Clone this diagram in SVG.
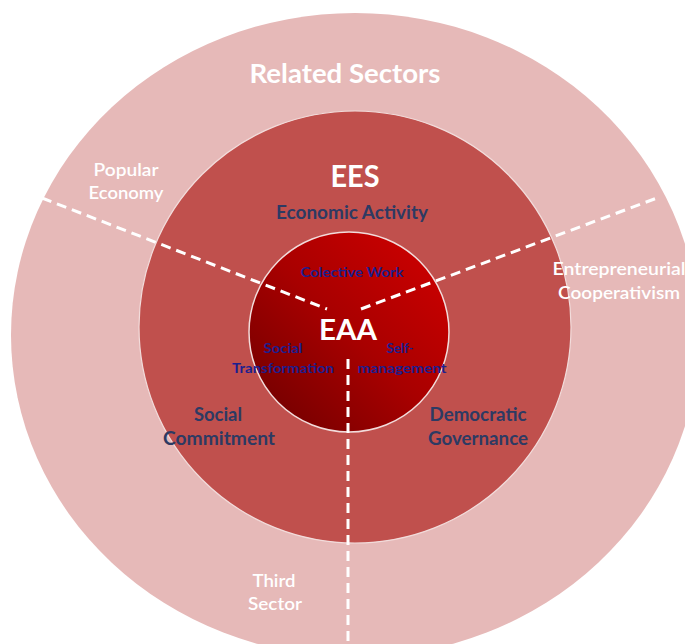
<svg xmlns="http://www.w3.org/2000/svg" width="685" height="644" viewBox="0 0 685 644">
  <style>
    .lbl { font-family: Lato, "Open Sans", "Liberation Sans", sans-serif; text-anchor: middle; }
    .head { fill: #ffffff; font-weight: bold; }
    .sector { fill: #ffffff; font-weight: 600; font-size: 17px; }
    .ees { fill: #2d3a63; font-weight: bold; font-size: 18px; }
    .eaa { fill: #1c1f8f; font-weight: bold; font-size: 13.5px; }
    .dash { stroke: #ffffff; stroke-width: 3; stroke-dasharray: 10 6; fill: none; }
  </style>
  <defs>
    <linearGradient id="coreFill" x1="0.15" y1="0.85" x2="0.85" y2="0.15">
      <stop offset="0" stop-color="#7c0000"/>
      <stop offset="0.5" stop-color="#a80000"/>
      <stop offset="1" stop-color="#c60000"/>
    </linearGradient>
  </defs>

  <rect width="685" height="644" fill="#ffffff"/>

  <!-- outer ring: related sectors -->
  <g id="related-sectors">
    <ellipse cx="355" cy="335" rx="344" ry="322" fill="#e6b9b8"/>
    <text class="lbl head" x="345" y="83" font-size="26" textLength="191" lengthAdjust="spacingAndGlyphs">Related Sectors</text>
  </g>

  <!-- middle ring: EES -->
  <g id="ees">
    <circle cx="355" cy="327" r="216" fill="#c0504d" stroke="#f2dcdb" stroke-width="1.2"/>
    <text class="lbl head" x="355" y="187" font-size="31" textLength="49" lengthAdjust="spacingAndGlyphs">EES</text>
  </g>

  <!-- core: EAA -->
  <g id="eaa">
    <circle cx="349" cy="332" r="100" fill="url(#coreFill)" stroke="#f2dcdb" stroke-width="1.5"/>
    <text class="lbl head" x="348" y="340" font-size="29" textLength="58" lengthAdjust="spacingAndGlyphs">EAA</text>
  </g>

  <!-- dividing lines between sectors -->
  <g id="connectors">
    <line class="dash" x1="42" y1="198" x2="327" y2="309"/>
    <line class="dash" x1="361" y1="309" x2="657" y2="198"/>
    <line class="dash" x1="348" y1="359" x2="348" y2="644"/>
  </g>

  <!-- sector labels in the outer ring -->
  <g id="popular-economy">
    <text class="lbl sector" x="126" y="176" textLength="65" lengthAdjust="spacingAndGlyphs">Popular</text>
    <text class="lbl sector" x="126" y="199" textLength="75" lengthAdjust="spacingAndGlyphs">Economy</text>
  </g>
  <g id="entrepreneurial-cooperativism">
    <text class="lbl sector" x="619" y="275" textLength="133" lengthAdjust="spacingAndGlyphs">Entrepreneurial</text>
    <text class="lbl sector" x="619" y="299" textLength="122" lengthAdjust="spacingAndGlyphs">Cooperativism</text>
  </g>
  <g id="third-sector">
    <text class="lbl sector" x="274" y="587" textLength="43" lengthAdjust="spacingAndGlyphs">Third</text>
    <text class="lbl sector" x="275" y="610" textLength="54" lengthAdjust="spacingAndGlyphs">Sector</text>
  </g>

  <!-- EES dimensions -->
  <g id="economic-activity">
    <text class="lbl ees" x="352" y="219" textLength="152" lengthAdjust="spacingAndGlyphs">Economic Activity</text>
  </g>
  <g id="social-commitment">
    <text class="lbl ees" x="218" y="421" textLength="48" lengthAdjust="spacingAndGlyphs">Social</text>
    <text class="lbl ees" x="219" y="445" textLength="112" lengthAdjust="spacingAndGlyphs">Commitment</text>
  </g>
  <g id="democratic-governance">
    <text class="lbl ees" x="478" y="421" textLength="97" lengthAdjust="spacingAndGlyphs">Democratic</text>
    <text class="lbl ees" x="478" y="445" textLength="100" lengthAdjust="spacingAndGlyphs">Governance</text>
  </g>

  <!-- EAA dimensions -->
  <g id="collective-work">
    <text class="lbl eaa" x="352" y="277" textLength="103" lengthAdjust="spacingAndGlyphs">Colective Work</text>
  </g>
  <g id="social-transformation">
    <text class="lbl eaa" x="283" y="353" textLength="39" lengthAdjust="spacingAndGlyphs">Social</text>
    <text class="lbl eaa" x="283" y="373" textLength="102" lengthAdjust="spacingAndGlyphs">Transformation</text>
  </g>
  <g id="self-management">
    <text class="lbl eaa" x="400" y="353" textLength="27" lengthAdjust="spacingAndGlyphs">Self-</text>
    <text class="lbl eaa" x="402" y="373" textLength="89" lengthAdjust="spacingAndGlyphs">management</text>
  </g>
</svg>
